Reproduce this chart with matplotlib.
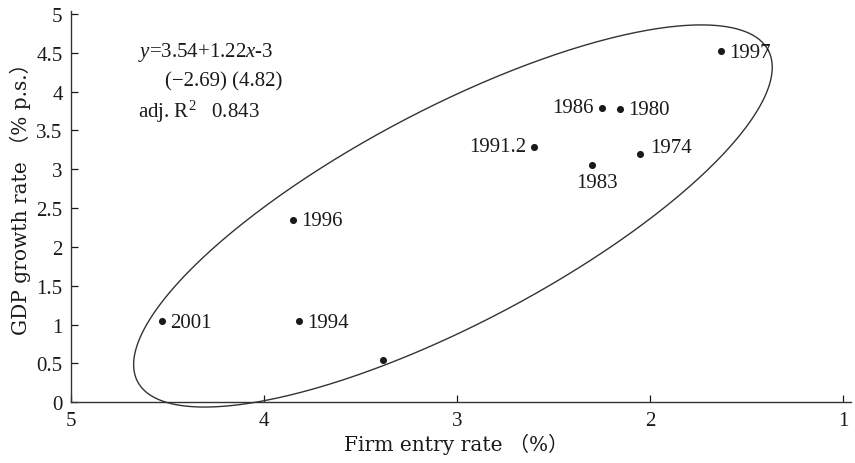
import numpy as np
import matplotlib
matplotlib.use("Agg")
import matplotlib.pyplot as plt

plt.rcParams['font.family'] = ['Liberation Serif', 'Noto Sans CJK JP']
plt.rcParams['mathtext.fontset'] = 'custom'
plt.rcParams['mathtext.rm'] = 'Liberation Serif'
plt.rcParams['mathtext.it'] = 'Liberation Serif:italic'
LABEL_FAMILY = ['DejaVu Serif', 'Noto Sans CJK JP']

# Data: firm entry rate (%) vs GDP growth rate (%)
years = ["1997", "1986", "1980", "1991.2", "1983", "1974", "1996", "2001", "1994", ""]
entry_rate = [1.63, 2.25, 2.155, 2.60, 2.30, 2.05, 3.85, 4.53, 3.82, 3.385]
gdp_growth = [4.52, 3.79, 3.78, 3.29, 3.06, 3.20, 2.35, 1.04, 1.04, 0.55]
label_pos = ["right", "left", "right", "left", "below", "right_up", "right", "right", "right", "none"]

xticks = [5, 4, 3, 2, 1]
yticks = [0, 0.5, 1, 1.5, 2, 2.5, 3, 3.5, 4, 4.5, 5]
ytick_labels = ["0", "0.5", "1", "1.5", "2", "2.5", "3", "3.5", "4", "4.5", "5"]

TXT = '#1a1a1a'
FS = 15
fig = plt.figure(figsize=(8.55, 4.64), dpi=100)
ax = fig.add_axes([0.083, 0.1308, 0.912, 0.844])

ax.scatter(entry_rate, gdp_growth, s=26, color=TXT, zorder=3, linewidths=0)

offsets = {
    "right": ((8, -1), 'left', 'center'),
    "left": ((-8, 0), 'right', 'center'),
    "below": ((5, -18), 'center', 'center'),
    "right_up": ((10, 6), 'left', 'center'),
}
for yr, x, y, pos in zip(years, entry_rate, gdp_growth, label_pos):
    if pos == "none":
        continue
    (dx, dy), ha, va = offsets[pos]
    ax.annotate(yr, (x, y), xytext=(dx, dy), textcoords='offset pixels',
                ha=ha, va=va, fontsize=FS, color=TXT)

# Ellipse enclosing the points (centre and semi-axis vectors in data units)
t = np.linspace(0, 2 * np.pi, 400)
cx, cy = 3.021, 2.398
ux, uy = -1.634, 2.131
vx, vy = 0.259, 1.227
ex = cx + ux * np.cos(t) + vx * np.sin(t)
ey = cy + uy * np.cos(t) + vy * np.sin(t)
ax.plot(ex, ey, color='#333333', lw=1.0, clip_on=False)

# Regression text
ax.text(4.653, 4.51, r"$y$=3.54+1.22$x$-3", fontsize=FS, va='center', ha='left', color=TXT)
ax.text(4.515, 4.135, "(\u22122.69) (4.82)", fontsize=FS, va='center', ha='left', color=TXT)
ax.text(4.653, 3.75, r"adj. R$^2$   0.843", fontsize=FS, va='center', ha='left', color=TXT)

ax.set_xlim(5, 0.96)
ax.set_ylim(0, 5.04)
ax.set_xticks(xticks)
ax.set_xticklabels([str(v) for v in xticks])
ax.set_yticks(yticks)
ax.set_yticklabels(ytick_labels)
ax.tick_params(direction='in', length=5, width=0.9, labelsize=FS, colors=TXT)
ax.tick_params(axis='x', pad=6)
ax.tick_params(axis='y', pad=6)
for s in ['top', 'right']:
    ax.spines[s].set_visible(False)
for s in ['left', 'bottom']:
    ax.spines[s].set_linewidth(1.0)
    ax.spines[s].set_color('#333333')

ax.set_xlabel("Firm entry rate \uff08%\uff09", fontsize=14.5, family=LABEL_FAMILY, color=TXT)
ax.set_ylabel("GDP growth rate \uff08% p.s.\uff09", fontsize=14.5, family=LABEL_FAMILY, color=TXT)
ax.xaxis.set_label_coords(0.494, -0.078)
ax.yaxis.set_label_coords(-0.051, 0.534)

fig.savefig("out.png", dpi=100)
